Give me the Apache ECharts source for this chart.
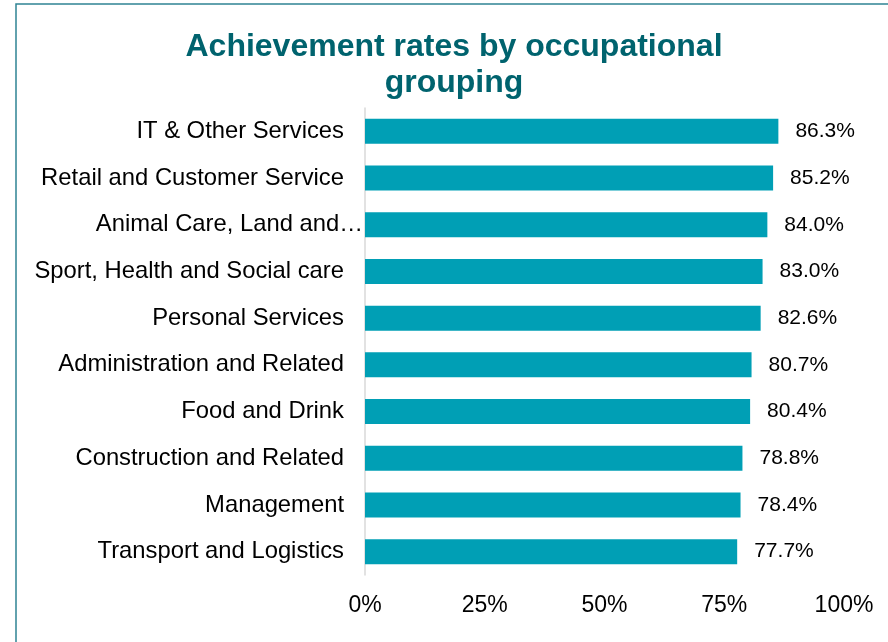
<!DOCTYPE html>
<html>
<head>
    <meta charset="utf-8">
    <title>Achievement rates by occupational grouping</title>
    <style>
        html, body { margin: 0; padding: 0; background: #fff; }
        #chart { width: 888px; height: 642px; }
    </style>
</head>
<body>
    <div id="chart"></div>
    <script src="https://cdn.jsdelivr.net/npm/echarts@6/dist/echarts.min.js"></script>
    <script>
        var categories = [
            'IT & Other Services',
            'Retail and Customer Service',
            'Animal Care, Land and\u2026',
            'Sport, Health and Social care',
            'Personal Services',
            'Administration and Related',
            'Food and Drink',
            'Construction and Related',
            'Management',
            'Transport and Logistics'
        ];
        var rates = [86.3, 85.2, 84.0, 83.0, 82.6, 80.7, 80.4, 78.8, 78.4, 77.7];
        var tickLabels = ['0%', '25%', '50%', '75%', '100%'];

        var font = '"Liberation Sans", Arial, sans-serif';
        var myChart = echarts.init(document.getElementById('chart'));

        var option = {
            backgroundColor: '#fff',
            animation: false,
            title: {
                text: 'Achievement rates by occupational\ngrouping',
                left: 449,
                textAlign: 'center',
                top: 24,
                textStyle: {
                    color: '#00636e',
                    fontFamily: font,
                    fontWeight: 'bold',
                    fontSize: 32,
                    lineHeight: 36
                }
            },
            graphic: [{
                type: 'rect',
                shape: { x: 16, y: 4, width: 1000, height: 1000 },
                style: { fill: 'none', stroke: '#2f8494', lineWidth: 1.5 },
                silent: true
            }],
            grid: { left: 365, right: 44, top: 108, height: 467 },
            xAxis: {
                type: 'value',
                min: 0,
                max: 100,
                interval: 25,
                axisLine: { show: false },
                axisTick: { show: false },
                splitLine: { show: false },
                axisLabel: {
                    margin: 19,
                    color: '#000',
                    fontFamily: font,
                    fontSize: 23,
                    formatter: function (v) { return tickLabels[v / 25]; }
                }
            },
            yAxis: {
                type: 'category',
                inverse: true,
                data: categories,
                axisLine: { lineStyle: { color: '#d9d9d9', width: 1.5 } },
                axisTick: { show: false },
                axisLabel: {
                    margin: 2,
                    color: '#000',
                    fontFamily: font,
                    fontSize: 23.8,
                    formatter: function (v) {
                        return v.indexOf('\u2026') >= 0 ? '{t|' + v + '}' : '{n|' + v + '}';
                    },
                    rich: {
                        t: { fontFamily: font, fontSize: 23.8, color: '#000' },
                        n: { fontFamily: font, fontSize: 23.8, color: '#000', padding: [0, 19, 0, 0] }
                    }
                }
            },
            series: [{
                type: 'bar',
                data: rates,
                barWidth: 25,
                itemStyle: { color: '#009fb5' },
                label: {
                    show: true,
                    position: 'right',
                    distance: 17,
                    color: '#000',
                    fontFamily: font,
                    fontSize: 21,
                    formatter: function (p) { return p.value.toFixed(1) + '%'; }
                }
            }]
        };

        myChart.setOption(option);
    </script>
</body>
</html>
